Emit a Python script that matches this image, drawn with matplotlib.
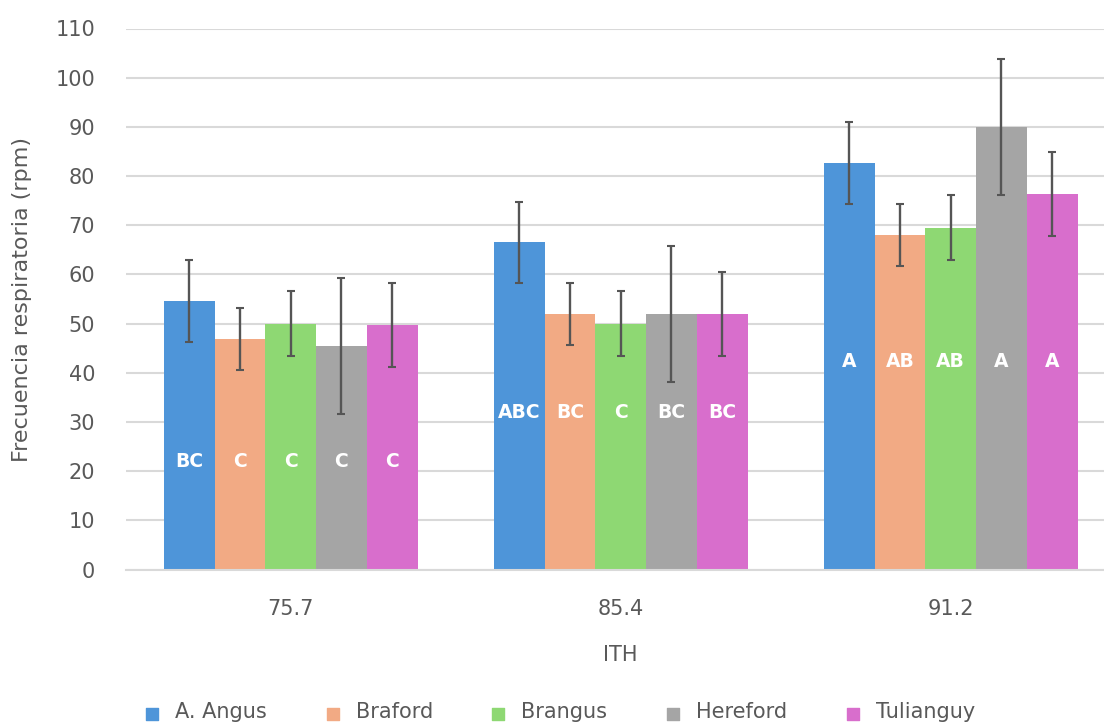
import matplotlib
matplotlib.use("Agg")
import matplotlib.pyplot as plt
import numpy as np
from matplotlib.lines import Line2D
from matplotlib.path import Path

# ITH levels on the x axis
ith_levels = ["75.7", "85.4", "91.2"]
breeds = ["A. Angus", "Braford", "Brangus", "Hereford", "Tulianguy"]

# Mean respiratory rate (rpm) per breed, one value per ITH level
angus = [54.6, 66.5, 82.7]
braford = [46.9, 52.0, 68.0]
brangus = [50.0, 50.0, 69.5]
hereford = [45.4, 52.0, 90.0]
tulianguy = [49.7, 52.0, 76.3]

# Error bar half-lengths per breed (same at each ITH level)
err_angus = [8.3, 8.3, 8.3]
err_braford = [6.3, 6.3, 6.3]
err_brangus = [6.6, 6.6, 6.6]
err_hereford = [13.8, 13.8, 13.8]
err_tulianguy = [8.5, 8.5, 8.5]

# Significance letters per breed, one per ITH level
let_angus = ["BC", "ABC", "A"]
let_braford = ["C", "BC", "AB"]
let_brangus = ["C", "C", "AB"]
let_hereford = ["C", "BC", "A"]
let_tulianguy = ["C", "BC", "A"]

values = [angus, braford, brangus, hereford, tulianguy]
errors = [err_angus, err_braford, err_brangus, err_hereford, err_tulianguy]
letters = [let_angus, let_braford, let_brangus, let_hereford, let_tulianguy]

colors = ["#4E95D9", "#F2AA84", "#8ED873", "#A5A5A5", "#D86ECC"]
text_color = "#595959"
grid_color = "#D9D9D9"
letter_height = [22, 32, 42.2]  # vertical placement of the letters in each group

plt.rcParams["font.family"] = ["DejaVu Sans"]

W, H = 1104, 726
fig = plt.figure(figsize=(W / 100, H / 100), dpi=100)
left_px, right_px, top_px, bottom_px = 125.7, 1104, 28.5, 569.5
ax = fig.add_axes([left_px / W, 1 - bottom_px / H,
                   (right_px - left_px) / W, (bottom_px - top_px) / H])

x = np.arange(len(ith_levels))
bar_w = 0.1537
n = len(breeds)
for i in range(n):
    xs = x + (i - (n - 1) / 2) * bar_w
    ax.bar(xs, values[i], width=bar_w, color=colors[i], zorder=2,
           label=breeds[i])
    ax.errorbar(xs, values[i], yerr=errors[i], fmt="none",
                ecolor="#555555", elinewidth=1.7, capsize=2.6,
                capthick=1.5, zorder=3)
    for j in range(len(x)):
        ax.text(xs[j], letter_height[j], letters[i][j], ha="center",
                va="center", color="white", fontsize=13.5, fontweight="bold",
                zorder=4)

ax.set_ylim(0, 110)
ax.set_yticks(np.arange(0, 111, 10))
ax.set_xlim(-0.5, -0.5 + (right_px - left_px) / 330.0)
ax.set_xticks(x)
ax.set_xticklabels(ith_levels)
ax.yaxis.grid(True, color=grid_color, linewidth=1.5, zorder=0)
ax.set_axisbelow(True)
for s in ["top", "right", "left"]:
    ax.spines[s].set_visible(False)
ax.spines["bottom"].set_color(grid_color)
ax.spines["bottom"].set_linewidth(1.5)
ax.tick_params(axis="both", length=0, colors=text_color, labelsize=15)
ax.tick_params(axis="x", pad=21)
ax.tick_params(axis="y", pad=22)

fig.text(22 / W, 1 - 299 / H, "Frecuencia respiratoria (rpm)", rotation=90,
         ha="center", va="center", color=text_color, fontsize=16)
fig.text(620 / W, 1 - 655 / H, "ITH", ha="center", va="center",
         color=text_color, fontsize=15)

# square legend keys sitting slightly below the text centre
key = Path([(-1, -1.5), (1, -1.5), (1, 0.5), (-1, 0.5), (-1, -1.5)],
           [Path.MOVETO, Path.LINETO, Path.LINETO, Path.LINETO, Path.CLOSEPOLY])
handles = [Line2D([0], [0], marker=key, linestyle="none", markersize=13,
                  markerfacecolor=c, markeredgecolor=c) for c in colors]
fig.legend(handles, breeds, loc="center", bbox_to_anchor=(560 / W, 1 - 712 / H),
           ncol=5, frameon=False, fontsize=15, labelcolor=text_color,
           handletextpad=0.75, columnspacing=2.8, handlelength=0.7)

fig.savefig("out.png", dpi=100)
